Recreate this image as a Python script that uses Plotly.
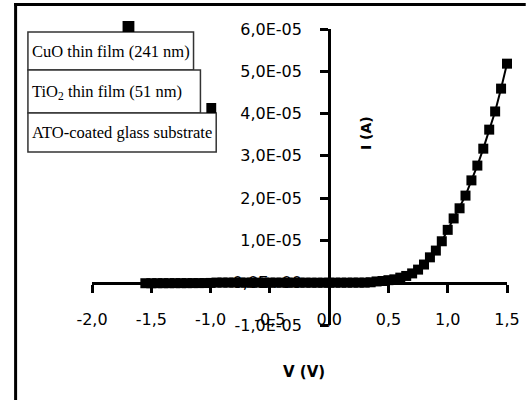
import plotly.graph_objects as go

# ---- data ----
voltage = [-1.55, -1.50, -1.45, -1.40, -1.35, -1.30, -1.25, -1.20, -1.15, -1.10, -1.05, -1.00,
           -0.95, -0.90, -0.85, -0.80, -0.75, -0.70, -0.65, -0.60, -0.55, -0.50, -0.45, -0.40,
           -0.35, -0.30, -0.25, -0.20, -0.15, -0.10, -0.05, 0.00,
           0.05, 0.10, 0.15, 0.20, 0.25, 0.30, 0.35, 0.40, 0.45, 0.50, 0.55, 0.60, 0.65, 0.70,
           0.75, 0.80, 0.85, 0.90, 0.95, 1.00, 1.05, 1.10, 1.15, 1.20, 1.25, 1.30, 1.35, 1.40,
           1.45, 1.50]
current = [-1.2e-7, -1.2e-7, -1.1e-7, -1.1e-7, -1.1e-7, -1.0e-7, -1.0e-7, -1.0e-7, -0.9e-7, -0.9e-7, -0.8e-7, -0.5e-7,
           0.3e-7, 0.3e-7, 0.3e-7, 0.3e-7, 0.3e-7, 0.2e-7, 0.2e-7, 0.2e-7, 0.2e-7, 0.2e-7, 0.2e-7, 0.1e-7,
           0.1e-7, 0.1e-7, 0.1e-7, 0.1e-7, 0.0, 0.0, 0.0, 0.0,
           0.1e-7, 0.1e-7, 0.1e-7, 0.2e-7, 0.2e-7, 0.2e-7, 1.0e-7, 3.0e-7, 4.0e-7, 6.0e-7, 8.0e-7, 1.2e-6, 1.6e-6, 2.2e-6,
           3.1e-6, 4.3e-6, 6.0e-6, 7.6e-6, 9.8e-6, 1.25e-5, 1.52e-5, 1.76e-5, 2.06e-5, 2.42e-5, 2.77e-5, 3.17e-5, 3.62e-5, 4.05e-5,
           4.59e-5, 5.18e-5]

x_tick_vals = [-2.0, -1.5, -1.0, -0.5, 0.0, 0.5, 1.0, 1.5]
x_tick_text = ["-2,0", "-1,5", "-1,0", "-0,5", "0,0", "0,5", "1,0", "1,5"]
y_tick_vals = [-1e-5, 0, 1e-5, 2e-5, 3e-5, 4e-5, 5e-5, 6e-5]
y_tick_text = ["-1,0E-05", "0,0E+00", "1,0E-05", "2,0E-05", "3,0E-05", "4,0E-05", "5,0E-05", "6,0E-05"]
x_range = [-2.0, 1.5]
y_range = [-1e-5, 6e-5]

layer_labels = ["CuO thin film (241 nm)", "TiO<sub>2</sub> thin film (51 nm)", "ATO-coated glass substrate"]
x_title = "V (V)"
y_title = "I (A)"

# ---- layout geometry (pixels) ----
W, H = 532, 400
ML, MR, MT, MB = 92, 19, 29, 75
PW, PH = W - ML - MR, H - MT - MB


def fx(px):
    return (px - ML) / PW


def fy(py):
    return (H - MB - py) / PH


# where the axes cross (value 0), as paper fractions
xaxis_pos = (0 - y_range[0]) / (y_range[1] - y_range[0])
yaxis_pos = (0 - x_range[0]) / (x_range[1] - x_range[0])

FONT = "DejaVu Sans"

fig = go.Figure()
fig.add_trace(go.Scatter(
    x=voltage, y=current, mode="lines+markers",
    line=dict(color="black", width=2),
    marker=dict(symbol="square", size=10, color="black"),
    showlegend=False, cliponaxis=False,
))

fig.update_layout(
    width=W, height=H,
    margin=dict(l=ML, r=MR, t=MT, b=MB),
    paper_bgcolor="white", plot_bgcolor="white",
    font=dict(family=FONT, size=16, color="black"),
    xaxis=dict(
        range=x_range, tickvals=x_tick_vals, ticktext=x_tick_text,
        showgrid=False, zeroline=False, showline=True, linecolor="black", linewidth=3,
        ticks="outside", ticklen=8, tickwidth=3, tickcolor="black",
        anchor="free", position=xaxis_pos, ticklabelstandoff=13,
        tickfont=dict(family=FONT, size=16, color="black"),
    ),
    yaxis=dict(
        range=y_range, tickvals=y_tick_vals, ticktext=y_tick_text,
        showgrid=False, zeroline=False, showline=True, linecolor="black", linewidth=3,
        ticks="outside", ticklen=8, tickwidth=3, tickcolor="black",
        anchor="free", position=yaxis_pos, ticklabelstandoff=15,
        tickfont=dict(family=FONT, size=16, color="black"),
        layer="below traces",
    ),
)

shapes = []
# frame lines (left and top)
shapes.append(dict(type="line", xref="paper", yref="paper", x0=fx(14.5), x1=fx(14.5), y0=fy(3), y1=fy(400),
                   line=dict(color="black", width=3)))
shapes.append(dict(type="line", xref="paper", yref="paper", x0=fx(13), x1=fx(532), y0=fy(4.5), y1=fy(4.5),
                   line=dict(color="black", width=3)))
# schematic boxes
boxes = [(27, 195, 32, 70), (27, 202, 70, 113), (27, 218, 113, 152)]
for (x0, x1, y0, y1) in boxes:
    shapes.append(dict(type="rect", xref="paper", yref="paper", x0=fx(x0), x1=fx(x1), y0=fy(y1), y1=fy(y0),
                       line=dict(color="#333333", width=1.5), fillcolor="white"))
# contacts
for (x0, x1, y0, y1) in [(123, 135, 21, 32), (208, 218, 103, 113)]:
    shapes.append(dict(type="rect", xref="paper", yref="paper", x0=fx(x0), x1=fx(x1), y0=fy(y1), y1=fy(y0),
                       line=dict(color="black", width=0), fillcolor="black"))
fig.update_layout(shapes=shapes)

annotations = []
for label, (x0, x1, y0, y1) in zip(layer_labels, boxes):
    annotations.append(dict(text=label, xref="paper", yref="paper", x=fx(x0 + 2), y=fy((y0 + y1) / 2),
                            xanchor="left", yanchor="middle", showarrow=False,
                            font=dict(family="Liberation Serif", size=16.5, color="black")))
annotations.append(dict(text="<b>" + x_title + "</b>", xref="paper", yref="paper", x=fx(307), y=fy(372),
                        xanchor="center", yanchor="middle", showarrow=False,
                        font=dict(family=FONT, size=15, color="black")))
annotations.append(dict(text="<b>" + y_title + "</b>", xref="paper", yref="paper", x=fx(370), y=fy(133),
                        xanchor="center", yanchor="middle", showarrow=False, textangle=-90,
                        font=dict(family=FONT, size=14, color="black")))
fig.update_layout(annotations=annotations)

fig.write_html("out.html")
